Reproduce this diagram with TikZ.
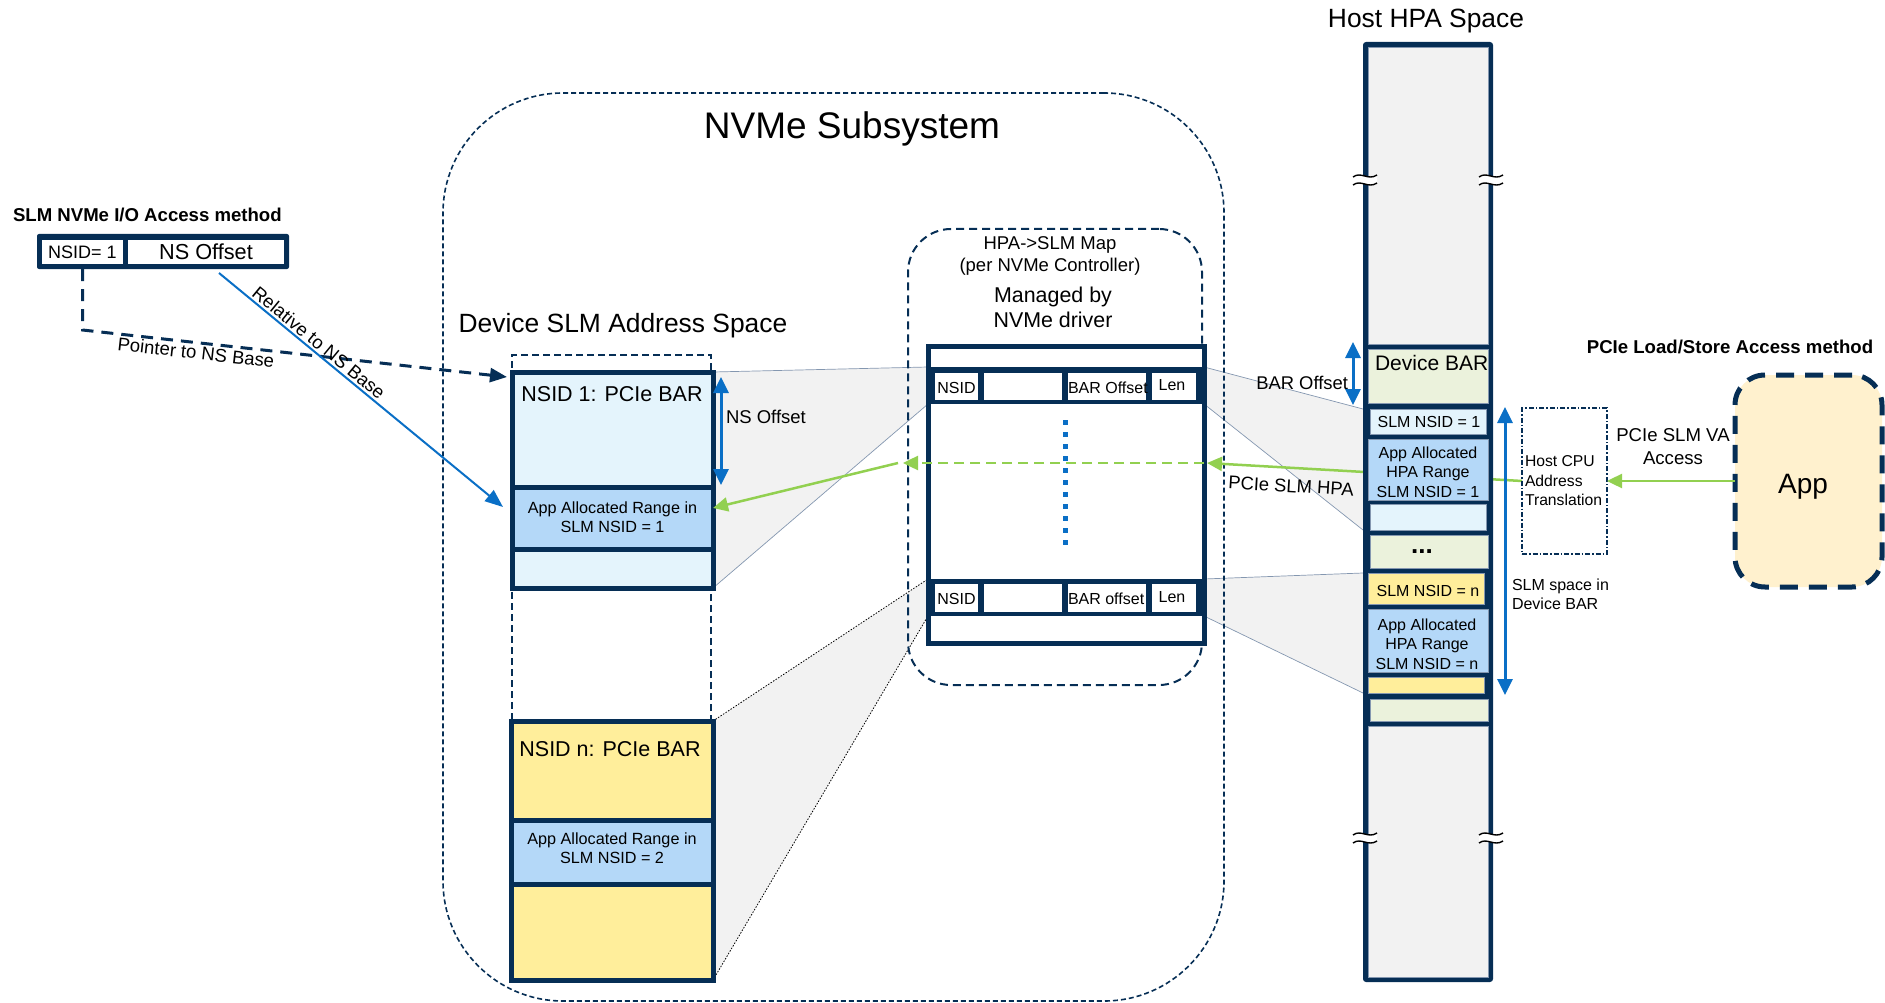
\documentclass[tikz,border=0pt]{standalone}
\usepackage{fontspec}
\setmainfont{Liberation Sans}
\usetikzlibrary{arrows.meta,backgrounds,calc}

\definecolor{navy}{HTML}{062E55}
\definecolor{paleblue}{HTML}{E4F4FC}
\definecolor{midblue}{HTML}{B4D8F8}
\definecolor{paleyellow}{HTML}{FFEE9B}
\definecolor{palegreen}{HTML}{EBF2DC}
\definecolor{lightgrey}{HTML}{F2F2F2}
\definecolor{appfill}{HTML}{FFF1CE}
\definecolor{linkblue}{HTML}{0A6FC6}
\definecolor{linkgreen}{HTML}{92D050}
\definecolor{edgegrey}{HTML}{8497B0}

\newcommand\fsz[2]{\fontsize{#1}{#2}\selectfont}
% rectangle node given by its top-left and bottom-right corners
\newcommand\rbox[6][]{\node[inner sep=0pt,outer sep=0pt,anchor=north west,
  minimum width={(#5)-(#3)},minimum height={(#6)-(#4)},#1] (#2) at (#3,#4) {};}

\pgfdeclarelayer{back}
\pgfdeclarelayer{mid}
\pgfsetlayers{back,mid,main}

\tikzset{
  txt/.style={inner sep=0pt,outer sep=0pt,align=center,text=black},
  frame/.style={draw=navy,line width=5pt},
  hcell/.style={draw=edgegrey,line width=0.6pt},
  tcell/.style={fill=white},
  bdbl/.style={linkblue,line width=3pt,
    {Triangle[length=16pt,width=15pt]}-{Triangle[length=16pt,width=15pt]}},
  barrow/.style={linkblue,line width=2pt,-{Triangle[length=18pt,width=14pt]}},
  garrow/.style={linkgreen,line width=2.5pt,-{Triangle[length=15pt,width=14pt]}},
  ndash/.style={navy,line width=3pt,dash pattern=on 12pt off 8pt,
    -{Triangle[length=17pt,width=14pt]}},
  trap/.style={fill=lightgrey},
  trapline/.style={draw=edgegrey,line width=0.7pt},
  trapdot/.style={draw=black,line width=0.8pt,dash pattern=on 1.5pt off 1.5pt},
  brk/.pic={
    \fill[white] (-12,-3) .. controls (-4,-9) and (3,1) .. (12,-5) -- (12,3)
      .. controls (3,9) and (-4,-1) .. (-12,5) -- cycle;
    \draw[black,line width=1.4pt] (-12,-3) .. controls (-4,-9) and (3,1) .. (12,-5);
    \draw[black,line width=1.4pt] (-12,5) .. controls (-4,-1) and (3,9) .. (12,3);
  }
}

\begin{document}
\begin{tikzpicture}[x=1pt,y=-1pt]
\useasboundingbox (0,0) rectangle (1885,1003);

% ---------- NVMe I/O access method (left)
\node[txt,anchor=west,font=\fsz{18.6}{22}\bfseries] (iotitle) at (13,215) {SLM NVMe I/O Access method};
\rbox[fill=navy,rounded corners=2pt]{iobox}{37}{234}{289}{269}
\rbox[tcell]{iocellA}{42}{240}{123}{264}
\rbox[tcell]{iocellB}{128}{240}{284}{264}
\node[txt,font=\fsz{18}{21}] (iocellAtxt) at (iocellA) {NSID= 1};
\node[txt,font=\fsz{21.7}{25}] (iocellBtxt) at (iocellB) {NS Offset};

% ---------- device SLM address space
\node[txt,font=\fsz{37}{42}] (nvmetitle) at (852,129) {NVMe Subsystem};
\node[txt,font=\fsz{26.4}{30}] (devtitle) at (623,326) {Device SLM Address Space};

\rbox[fill=paleblue,frame]{ns1}{512}{372}{713}{588}
\rbox[fill=midblue,frame]{ns1app}{512}{487}{713}{549}
\node[txt,font=\fsz{21.5}{25}] (ns1title) at (612,394) {NSID 1: PCIe BAR};
\node[txt,font=\fsz{16.2}{19}] (ns1apptxt) at ($(ns1app)+(0,-1)$) {App Allocated Range in\\SLM NSID = 1};

\rbox[fill=paleyellow,frame]{nsn}{511}{721}{713}{980}
\rbox[fill=midblue,frame]{nsnapp}{511}{820}{713}{884}
\node[txt,font=\fsz{21.5}{25}] (nsntitle) at (610,749) {NSID n: PCIe BAR};
\node[txt,font=\fsz{16.2}{19}] (nsnapptxt) at ($(nsnapp)+(0,-4)$) {App Allocated Range in\\SLM NSID = 2};

% ---------- HPA->SLM map table
\node[txt,font=\fsz{18.5}{22}] (maptitle) at (1050,256) {HPA->SLM Map\\(per NVMe Controller)};
\node[txt,font=\fsz{21.4}{25}] (mapdrv) at (1053,307.5) {Managed by\\NVMe driver};

\rbox[fill=white,frame]{tbl}{928}{346}{1204}{643}
\rbox[fill=navy]{r1}{928}{367}{1204}{404}
\rbox[tcell]{r1a}{935}{373}{978}{400}
\rbox[tcell]{r1b}{984}{373}{1062}{400}
\rbox[tcell]{r1c}{1068}{373}{1146}{400}
\rbox[tcell]{r1d}{1152}{373}{1196}{400}
\node[txt,font=\fsz{16}{19}] (r1atxt) at ($(r1a)+(0,1)$) {NSID};
\node[txt,font=\fsz{16}{19},anchor=west] (r1ctxt) at ($(r1c.west)+(0,1)$) {BAR Offset};
\node[txt,font=\fsz{16}{19}] (r1dtxt) at ($(r1d)+(-2,-1)$) {Len};

\rbox[fill=navy]{rn}{928}{579}{1204}{616}
\rbox[tcell]{rna}{935}{584}{978}{612}
\rbox[tcell]{rnb}{984}{584}{1062}{612}
\rbox[tcell]{rnc}{1068}{584}{1146}{612}
\rbox[tcell]{rnd}{1152}{584}{1196}{612}
\node[txt,font=\fsz{16}{19}] (rnatxt) at ($(rna)+(0,1)$) {NSID};
\node[txt,font=\fsz{16}{19},anchor=west] (rnctxt) at ($(rnc.west)+(0,1)$) {BAR offset};
\node[txt,font=\fsz{16}{19}] (rndtxt) at ($(rnd)+(-2,-1)$) {Len};

% vertical ellipsis of further map entries
\draw[linkblue,line width=5pt,dash pattern=on 5pt off 7pt] (1065,420) -- (1065,545);

% ---------- host HPA space column
\node[txt,font=\fsz{26.4}{30}] (hosttitle) at (1426,21) {Host HPA Space};
\rbox[fill=navy,rounded corners=3pt]{hcol}{1363}{42}{1493}{982}
\rbox[fill=lightgrey,hcell]{htop}{1368}{47}{1488}{344}
\rbox[fill=palegreen,hcell]{hbar}{1368}{349}{1488}{403}
\rbox[fill=paleblue,hcell]{hslm1}{1370}{409}{1486}{434}
\rbox[fill=midblue,hcell]{happ1}{1368}{439}{1488}{500}
\rbox[fill=paleblue,hcell]{hlb1}{1370}{504}{1486}{530}
\rbox[fill=palegreen,hcell]{hdots}{1370}{535}{1488}{568}
\rbox[fill=paleyellow,hcell]{hslmn}{1368}{573}{1484}{604}
\rbox[fill=midblue,hcell]{happn}{1368}{609}{1488}{672}
\rbox[fill=paleyellow,hcell]{hyel}{1368}{677}{1484}{693}
\rbox[fill=palegreen,hcell]{hgrn}{1370}{699}{1488}{721}
\rbox[fill=lightgrey,hcell]{hbot}{1368}{726}{1488}{977}

\node[txt,font=\fsz{21}{25},anchor=west] (hbartxt) at (1375,363) {Device BAR};
\node[txt,font=\fsz{16}{19}] (hslm1txt) at (1429,422) {SLM NSID = 1};
\node[txt,font=\fsz{16}{19.5}] (happ1txt) at (1428,472) {App Allocated\\HPA Range\\SLM NSID = 1};
\node[txt,font=\fsz{26}{30}\bfseries] (hdotstxt) at (1422,552) {...};
\node[txt,font=\fsz{16}{19}] (hslmntxt) at (1428,591) {SLM NSID = n};
\node[txt,font=\fsz{16}{19.5}] (happntxt) at (1427,644) {App Allocated\\HPA Range\\SLM NSID = n};

% break marks on the column edges
\pic at (1365,180) {brk};
\pic at (1491,180) {brk};
\pic at (1365,838) {brk};
\pic at (1491,838) {brk};

% ---------- host side: translation and application
\rbox[draw=navy,line width=1.2pt,dash pattern=on 5pt off 2pt on 1.5pt off 2pt]{hcpu}{1522}{408}{1607}{554}
\node[txt,align=left,anchor=west,font=\fsz{15.7}{19.5}] (hcputxt) at (1525,481) {Host CPU\\Address\\Translation};
\rbox[fill=appfill,draw=navy,line width=5pt,dash pattern=on 18pt off 11pt,rounded corners=30pt]{app}{1735}{375}{1882}{587}
\node[txt,font=\fsz{28}{32}] (apptxt) at (1803,487) {App};
\node[txt,font=\fsz{18.6}{22}\bfseries] (lstitle) at (1730,347) {PCIe Load/Store Access method};
\node[txt,font=\fsz{18.6}{23}] (valbl) at (1673,446.5) {PCIe SLM VA\\Access};

% ---------- labels
\node[txt,anchor=west,font=\fsz{18.5}{22}] (nsofflbl) at (726,417) {NS Offset};
\node[txt,anchor=east,font=\fsz{18.4}{22}] (barofflbl) at (1348,383) {BAR Offset};
\node[txt,rotate=-3.3,font=\fsz{18.4}{22}] (hpalbl) at (1291,486) {PCIe SLM HPA};
\node[txt,align=left,anchor=west,font=\fsz{16}{19}] (spacelbl) at (1512,594.5) {SLM space in\\Device BAR};

% ---------- containers
\begin{pgfonlayer}{mid}
\rbox[draw=navy,line width=1.6pt,dash pattern=on 5pt off 3pt,rounded corners=120pt]{nvme}{443}{93}{1224}{1001}
\rbox[draw=navy,line width=2pt,dash pattern=on 8pt off 5pt,rounded corners=43pt]{hpamap}{908}{229}{1202}{685}
\rbox[draw=navy,line width=1.8pt,dash pattern=on 7pt off 4pt]{devcol}{512}{355}{711}{721}
\end{pgfonlayer}

% ---------- connectors
\coordinate (gy) at (0,463);
\coordinate (ptrend) at ($(ns1.north west)+(-5,5)$);
\coordinate (relA) at ($(iobox.south west)+(182,4)$);
\coordinate (relB) at ($(ns1app.north west)+(-9,20)$);

\draw[ndash] (iocellA.south |- iobox.south) -- ++(0,61) -- (ptrend)
  node[pos=0.27,sloped,below=3pt,txt,font=\fsz{18.5}{22}] (ptrlbl) {Pointer to NS Base};
\draw[barrow] (relA) -- (relB)
  node[pos=0.33,sloped,above=3pt,txt,font=\fsz{18.5}{22}] (rellbl) {Relative to NS Base};

\draw[bdbl] ($(ns1.north east)+(8,5)$) -- ($(ns1app.north east)+(8,-2)$);
\draw[bdbl] ($(hbar.north west)+(-15,-7)$) -- ($(hbar.south west)+(-15,2)$);
\draw[bdbl] ($(hslm1.north east)+(19,-2)$) -- ($(hyel.south east)+(21,2)$);

\draw[garrow] (app.west) -- (hcpu.east |- app.west);
\begin{pgfonlayer}{mid}
\draw[garrow] (hcpu.west |- app.west) -- ($(tbl.east |- gy)+(3,0)$);
\end{pgfonlayer}
\draw[garrow,dash pattern=on 10pt off 6pt] (tbl.east |- gy) -- ($(hpamap.west |- gy)+(-5,0)$);
\draw[garrow] ($(hpamap.west |- gy)+(-10,0)$) -- ($(ns1app.north east)+(0,21)$);

% ---------- projection wedges
\begin{pgfonlayer}{back}
\path[trap] (ns1.north east) -- (r1.north west) -- (r1.south west) -- (ns1.south east) -- cycle;
\draw[trapline] (ns1.north east) -- (r1.north west);
\draw[trapline] (ns1.south east) -- (r1.south west);

\path[trap] (nsn.north east) -- (rn.north west) -- (rn.south west) -- (nsn.south east) -- cycle;
\draw[trapdot] (nsn.north east) -- (rn.north west);
\draw[trapdot] (nsn.south east) -- (rn.south west);

\path[trap] (r1.north east) -- (hslm1.north west -| hcol.west) -- (hlb1.south west -| hcol.west) -- (r1.south east) -- cycle;
\draw[trapline] (r1.north east) -- (hslm1.north west -| hcol.west);
\draw[trapline] (r1.south east) -- (hlb1.south west -| hcol.west);

\path[trap] (rn.north east) -- (hslmn.north west -| hcol.west) -- (hyel.south west -| hcol.west) -- (rn.south east) -- cycle;
\draw[trapline] (rn.north east) -- (hslmn.north west -| hcol.west);
\draw[trapline] (rn.south east) -- (hyel.south west -| hcol.west);
\end{pgfonlayer}
\end{tikzpicture}
\end{document}
